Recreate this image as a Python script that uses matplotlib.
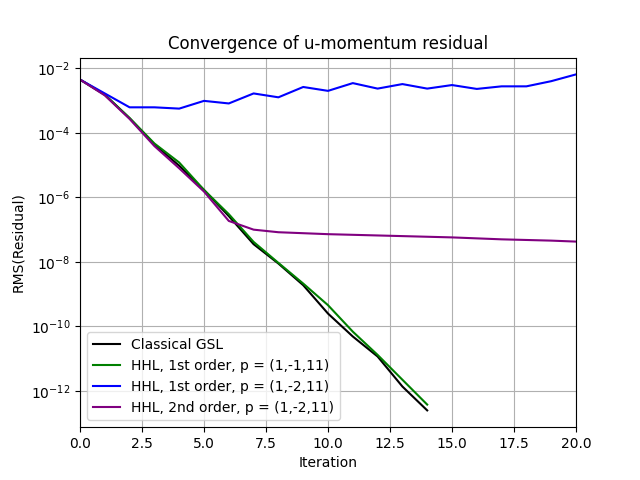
import numpy as np
import matplotlib
matplotlib.use('Agg')
import matplotlib.pyplot as plt

iterations = np.arange(0, 21)

# log10 of RMS residual
gsl_log = [-2.35, -2.82, -3.55, -4.36, -5.02, -5.77, -6.58, -7.45, -8.05, -8.72,
           -9.60, -10.31, -10.93, -11.86, -12.60]
hhl1_p11_log = [-2.35, -2.82, -3.54, -4.33, -4.92, -5.77, -6.52, -7.38, -8.03, -8.67,
                -9.34, -10.16, -10.88, -11.65, -12.42]
hhl1_p21_log = [-2.35, -2.78, -3.21, -3.21, -3.25, -3.01, -3.09, -2.78, -2.90, -2.58,
                -2.70, -2.46, -2.63, -2.49, -2.63, -2.52, -2.64, -2.56, -2.56, -2.40,
                -2.19]
hhl2_p21_log = [-2.35, -2.84, -3.57, -4.41, -5.10, -5.82, -6.73, -7.00, -7.08, -7.11,
                -7.14, -7.16, -7.18, -7.20, -7.22, -7.24, -7.27, -7.30, -7.32, -7.34,
                -7.37]

gsl = 10.0 ** np.array(gsl_log)
hhl1_p11 = 10.0 ** np.array(hhl1_p11_log)
hhl1_p21 = 10.0 ** np.array(hhl1_p21_log)
hhl2_p21 = 10.0 ** np.array(hhl2_p21_log)

fig, ax = plt.subplots(figsize=(6.4, 4.8), dpi=100)
ax.semilogy(iterations[:len(gsl)], gsl, color='k', label='Classical GSL')
ax.semilogy(iterations[:len(hhl1_p11)], hhl1_p11, color='green', label='HHL, 1st order, p = (1,-1,11)')
ax.semilogy(iterations[:len(hhl1_p21)], hhl1_p21, color='b', label='HHL, 1st order, p = (1,-2,11)')
ax.semilogy(iterations[:len(hhl2_p21)], hhl2_p21, color='purple', label='HHL, 2nd order, p = (1,-2,11)')

ax.set_xlim(0, 20)
ax.grid(True)
ax.set_title('Convergence of u-momentum residual')
ax.set_xlabel('Iteration')
ax.set_ylabel('RMS(Residual)')
ax.legend(loc='lower left')

plt.savefig('out.png', dpi=100)
